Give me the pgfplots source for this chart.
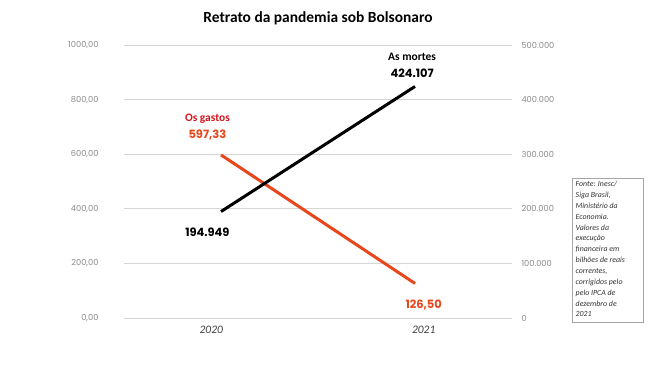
\documentclass[border=0pt]{standalone}
\usepackage{pgfplots}
\pgfplotsset{compat=1.18}
\usepackage{fontspec}
\setmainfont{Carlito}
\newfontfamily\pop{Poppins}
\definecolor{orng}{HTML}{E8461B}
\definecolor{redl}{HTML}{D4141E}
\definecolor{tickgray}{HTML}{8A8A8A}
\definecolor{gridgray}{HTML}{D6D6D6}
\begin{document}
\begin{tikzpicture}[x=1bp,y=1bp]
\path (0,0) rectangle (650,365);
\node[font=\fontsize{15.5}{18}\selectfont\bfseries, anchor=center] at (318,347) {Retrato da pandemia sob Bolsonaro};
\begin{axis}[
  at={(124bp,47bp)}, anchor=south west, scale only axis,
  width=388bp, height=273bp,
  xmin=-0.5, xmax=1.5, ymin=0, ymax=1000,
  axis line style={draw=none},
  major tick style={draw=none},
  ymajorgrids, grid style={gridgray, line width=0.8bp},
  ytick={0,200,400,600,800,1000},
  yticklabels={{0,00},{200,00},{400,00},{600,00},{800,00},{1000,00}},
  yticklabel style={font=\pop\fontsize{8.3}{10}\selectfont, text=tickgray, anchor=east, xshift=-22bp},
  xtick=\empty,
  clip=false,
]
\addplot[orng, line width=3bp] coordinates {(0,597.33) (1,126.50)};
\addplot[black, line width=3bp] coordinates {(0,389.898) (1,848.214)};
\node[font=\fontsize{11.5}{13}\selectfont\itshape, text=black!75] at (axis cs:-0.05,-45) {2020};
\node[font=\fontsize{11.5}{13}\selectfont\itshape, text=black!75] at (axis cs:1.045,-45) {2021};
\node[font=\fontsize{11.5}{13}\selectfont\bfseries, text=redl] at (axis cs:-0.07,730) {Os gastos};
\node[font=\pop\fontsize{11.5}{13}\selectfont\bfseries, text=orng] at (axis cs:-0.07,672) {597,33};
\node[font=\pop\fontsize{11.5}{13}\selectfont\bfseries, text=black] at (axis cs:-0.07,315) {194.949};
\node[font=\fontsize{11.5}{13}\selectfont\bfseries, text=black] at (axis cs:0.985,955) {As mortes};
\node[font=\pop\fontsize{11.5}{13}\selectfont\bfseries, text=black] at (axis cs:0.985,896) {424.107};
\node[font=\pop\fontsize{11.5}{13}\selectfont\bfseries, text=orng] at (axis cs:1.045,48) {126,50};
\end{axis}
\begin{axis}[
  at={(124bp,47bp)}, anchor=south west, scale only axis,
  width=388bp, height=273bp,
  xmin=-0.5, xmax=1.5, ymin=0, ymax=500000,
  axis line style={draw=none},
  major tick style={draw=none},
  hide x axis,
  axis y line*=right,
  scaled y ticks=false,
  ytick={0,100000,200000,300000,400000,500000},
  yticklabels={0,100.000,200.000,300.000,400.000,500.000},
  yticklabel style={font=\pop\fontsize{8.3}{10}\selectfont, text=tickgray, anchor=west, xshift=6bp},
]
\addplot[draw=none] coordinates {(0,0)};
\end{axis}
\draw[black!35, line width=0.6bp] (572,43) rectangle (643,187);
\node[anchor=north west, align=left, font=\fontsize{7.9}{10.9}\selectfont\itshape, text=black!80, inner sep=0pt] at (575.5,184) {Fonte: Inesc/\\Siga Brasil,\\Ministério da\\Economia.\\Valores da\\execução\\financeira em\\bilhões de reais\\correntes,\\corrigidos pelo\\pelo IPCA de\\dezembro de\\2021};
\end{tikzpicture}
\end{document}
